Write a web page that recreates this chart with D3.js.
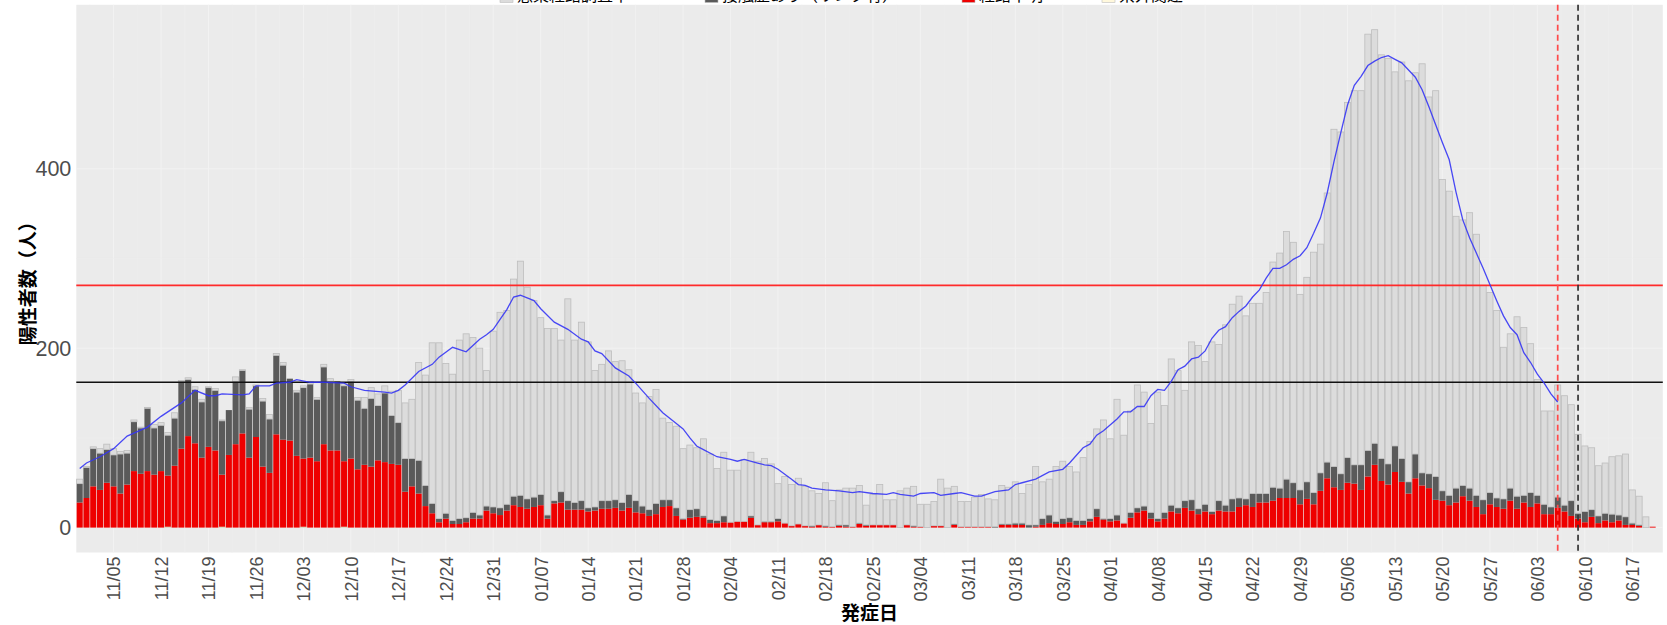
<!DOCTYPE html>
<html>
<head>
<meta charset="utf-8">
<script src="https://cdn.jsdelivr.net/npm/d3@7"></script>
<style>
  body { margin: 0; background: #fff; }
  svg { display: block; font-family: "Liberation Sans", Arial, "Noto Sans CJK JP", sans-serif; }
</style>
</head>
<body>
<svg id="chart" width="1667" height="625"></svg>
<script>
// daily counts by onset date, first bar = 2020-10-31
const startDate = new Date(2020, 9, 31);

const redCases = [
  28, 33, 46, 42, 50, 46, 38, 48, 63, 60,
  63, 59, 63, 57, 69, 88, 102, 94, 78, 90,
  86, 58, 81, 93, 105, 78, 101, 68, 61, 104,
  98, 97, 80, 76, 78, 74, 93, 86, 86, 73,
  77, 65, 70, 68, 75, 73, 71, 70, 40, 46,
  38, 24, 16, 6, 10, 4, 4, 6, 10, 10,
  19, 16, 14, 19, 25, 23, 21, 23, 25, 10,
  27, 28, 20, 20, 20, 18, 19, 21, 21, 22,
  19, 22, 17, 16, 13, 15, 23, 24, 13, 9,
  11, 12, 11, 5, 5, 6, 6, 7, 7, 11,
  3, 6, 6, 7, 5, 2, 4, 2, 1, 3,
  1, 1, 2, 1, 1, 4, 2, 3, 3, 3,
  3, 0, 3, 1, 1, 0, 2, 2, 0, 3,
  1, 1, 1, 1, 1, 0, 3, 3, 3, 3,
  0, 1, 3, 5, 4, 4, 6, 3, 3, 7,
  12, 9, 7, 8, 5, 11, 17, 19, 10, 7,
  10, 18, 16, 22, 19, 15, 18, 15, 19, 18,
  18, 23, 25, 23, 28, 28, 30, 33, 33, 33,
  26, 32, 26, 41, 55, 45, 42, 50, 49, 42,
  57, 70, 52, 48, 62, 51, 38, 55, 47, 44,
  31, 30, 25, 28, 35, 30, 23, 15, 26, 23,
  21, 30, 21, 28, 23, 27, 15, 15, 22, 18,
  13, 10, 6, 12, 5, 8, 6, 8, 3, 3,
  2, 0, 1
];

const linkedCases = [
  21, 34, 42, 41, 37, 35, 44, 35, 55, 51,
  70, 52, 51, 45, 53, 75, 63, 60, 62, 66,
  67, 60, 50, 70, 70, 54, 57, 73, 60, 88,
  83, 69, 71, 79, 82, 69, 86, 77, 77, 84,
  86, 77, 63, 76, 61, 77, 54, 47, 37, 31,
  37, 23, 11, 4, 6, 4, 6, 5, 7, 4,
  5, 7, 8, 7, 10, 13, 11, 11, 12, 4,
  3, 12, 10, 8, 10, 4, 4, 9, 9, 9,
  9, 15, 13, 8, 7, 12, 8, 7, 9, 1,
  9, 9, 2, 4, 3, 7, 0, 0, 0, 2,
  0, 1, 1, 3, 0, 0, 0, 0, 1, 0,
  1, 0, 1, 2, 0, 1, 1, 0, 0, 0,
  0, 0, 0, 1, 0, 0, 0, 0, 0, 1,
  0, 0, 0, 0, 0, 1, 1, 1, 2, 2,
  3, 2, 7, 9, 3, 6, 5, 5, 5, 3,
  9, 1, 3, 6, 0, 6, 5, 5, 7, 3,
  7, 7, 6, 8, 12, 6, 8, 3, 11, 7,
  14, 10, 7, 15, 10, 10, 15, 11, 21, 17,
  16, 19, 13, 20, 18, 23, 18, 28, 21, 28,
  29, 24, 25, 23, 29, 26, 13, 27, 14, 16,
  26, 11, 11, 16, 12, 14, 13, 16, 13, 10,
  11, 14, 14, 8, 16, 9, 11, 8, 12, 7,
  17, 6, 12, 8, 8, 8, 9, 6, 9, 2,
  1, 0, 0
];

const unknownCases = [
  5, 1, 2, 5, 6, 7, 3, 3, 2, 1,
  1, 4, 3, 3, 6, 1, 2, 3, 3, 1,
  2, 1, 0, 5, 1, 2, 1, 3, 5, 2,
  3, 0, 2, 2, 3, 2, 3, 3, 0, 3,
  2, 3, 12, 12, 13, 8, 27, 36, 62, 66,
  109, 123, 179, 196, 167, 163, 199, 205, 195, 186,
  151, 196, 218, 216, 242, 261, 236, 219, 197, 208,
  192, 169, 225, 181, 199, 185, 152, 152, 167, 154,
  158, 139, 120, 115, 126, 127, 91, 86, 91, 78,
  72, 68, 86, 73, 58, 71, 58, 57, 69, 71,
  71, 70, 64, 39, 52, 46, 51, 44, 39, 35,
  48, 29, 39, 41, 43, 42, 22, 34, 45, 28,
  28, 41, 41, 44, 25, 26, 27, 52, 44, 42,
  28, 28, 33, 36, 31, 30, 43, 41, 46, 33,
  45, 65, 41, 40, 61, 64, 57, 54, 70, 86,
  89, 110, 89, 129, 98, 113, 137, 127, 99, 141,
  119, 163, 153, 123, 176, 182, 159, 189, 174, 201,
  217, 225, 204, 212, 212, 224, 251, 262, 276, 268,
  218, 228, 268, 255, 300, 376, 381, 396, 417, 417,
  464, 461, 450, 452, 417, 442, 447, 425, 456, 420,
  430, 347, 339, 303, 296, 307, 291, 239, 223, 209,
  169, 172, 200, 187, 166, 129, 104, 107, 125, 122,
  107, 88, 73, 69, 56, 56, 64, 66, 70, 37,
  32, 12, 0
];

// imported cases only on a few days (day index from startDate)
const importDays = [13, 21, 33, 39];
const importCounts = [1, 1, 1, 1];

// 7-day average line (day index, value)
const maDays = [0, 1, 3, 5, 7, 10, 12, 14, 15, 17, 19, 20, 21, 24, 25, 26, 28, 29, 31, 32, 34, 36, 39, 40, 42, 45, 46, 47, 48, 50,
  52, 53, 55, 57, 59, 60, 61, 62, 63, 64, 65, 66, 67, 68, 70, 72, 74, 75, 76, 77, 79, 81, 82, 84, 86, 88, 89, 90, 91, 92,
  94, 96, 97, 98, 100, 101, 102, 103, 105, 106, 107, 108, 110, 112, 114, 115, 117, 119, 120, 121, 123, 124, 126, 127, 129, 130,
  132, 133, 135, 137, 138, 139, 141, 143, 145, 146, 148, 149, 150, 151, 153, 154, 155, 156, 157, 158, 159, 160, 161, 162, 163,
  164, 165, 166, 167, 168, 169, 170, 171, 172, 173, 174, 175, 176, 177, 178, 179, 180, 181, 182, 183, 184, 185, 186, 187, 188,
  189, 190, 191, 192, 193, 194, 195, 197, 198, 199, 200, 201, 202, 203, 204, 205, 206, 207, 208, 209, 210, 211, 212, 213, 214,
  215, 216, 217, 218];
const maValues = [66, 72, 79, 88, 102, 112, 124, 134, 139, 153, 147, 147, 149, 148, 149, 158, 158, 161, 162, 165, 162, 162, 161, 157, 153, 151, 150, 153, 159, 174,
  182, 190, 201, 196, 210, 215, 221, 232, 243, 257, 259, 256, 253, 244, 229, 221, 210, 207, 197, 194, 178, 169, 161, 144, 128, 116, 110, 100, 91, 87,
  79, 76, 74, 76, 72, 70, 69, 65, 54, 48, 47, 44, 42, 41, 39, 40, 38, 37, 39, 37, 35, 38, 39, 36, 38, 39,
  35, 35, 40, 42, 48, 50, 54, 62, 65, 72, 89, 93, 103, 108, 121, 129, 129, 135, 135, 147, 154, 153, 163, 176, 180,
  188, 190, 197, 211, 220, 224, 234, 241, 247, 257, 265, 278, 289, 289, 293, 299, 303, 312, 328, 345, 373, 408, 440, 471, 493,
  503, 515, 520, 524, 526, 522, 518, 502, 488, 469, 449, 429, 410, 374, 343, 323, 306, 289, 271, 253, 236, 223, 215, 195, 184,
  171, 161, 149, 140];

const thresholdHigh = 270;
const thresholdLow = 162;
const cutoffRed = new Date(2021, 5, 6);
const cutoffBlack = new Date(2021, 5, 9);

const legendLabels = ['感染経路調査中', '接触歴あり（リンク有）', '経路不明', '県外関連'];
const legendColors = ['#DCDCDC', '#5A5A5A', '#EE0000', '#FFF8DC'];

const panel = { left: 76.3, right: 1662.8, top: 4.8, bottom: 552.5 };

const svg = d3.select('#chart');

const importMap = new Map(importDays.map((d, i) => [d, importCounts[i]]));
const rows = redCases.map((v, i) => ({
  date: d3.timeDay.offset(startDate, i),
  imported: importMap.get(i) || 0,
  red: v,
  linked: linkedCases[i],
  unknown: unknownCases[i]
}));

const keys = ['imported', 'red', 'linked', 'unknown'];
const fills = { imported: '#FFF8DC', red: '#EE0000', linked: '#5A5A5A', unknown: '#DCDCDC' };
const strokes = { imported: '#D9D6C0', red: 'none', linked: 'none', unknown: '#BDBDBD' };

const series = d3.stack().keys(keys)(rows);
const maxTotal = d3.max(rows, d => d.imported + d.red + d.linked + d.unknown);
const pad = maxTotal * 0.05;

const x = d3.scaleTime()
  .domain([d3.timeHour.offset(startDate, -12), d3.timeHour.offset(d3.timeDay.offset(startDate, rows.length), 12)])
  .range([panel.left, panel.right]);

const y = d3.scaleLinear()
  .domain([-pad, maxTotal + pad])
  .range([panel.bottom, panel.top]);

const dayW = x(d3.timeDay.offset(startDate, 1)) - x(startDate);
const barW = dayW * 0.9;

// panel background + grid
svg.append('rect')
  .attr('x', panel.left).attr('y', panel.top)
  .attr('width', panel.right - panel.left).attr('height', panel.bottom - panel.top)
  .attr('fill', '#EBEBEB');

const grid = svg.append('g').attr('class', 'grid');
const weekTicks = d3.timeThursday.range(x.domain()[0], x.domain()[1]);
grid.selectAll('.vminor')
  .data(weekTicks.map(d => d3.timeHour.offset(d, -84)))
  .enter().append('line')
  .attr('x1', d => x(d)).attr('x2', d => x(d))
  .attr('y1', panel.top).attr('y2', panel.bottom)
  .attr('stroke', '#EFEFEF').attr('stroke-width', 0.6);
grid.selectAll('.vmajor')
  .data(weekTicks)
  .enter().append('line')
  .attr('x1', d => x(d)).attr('x2', d => x(d))
  .attr('y1', panel.top).attr('y2', panel.bottom)
  .attr('stroke', '#F2F2F2').attr('stroke-width', 1);
grid.selectAll('.hminor')
  .data([100, 300, 500])
  .enter().append('line')
  .attr('x1', panel.left).attr('x2', panel.right)
  .attr('y1', d => y(d)).attr('y2', d => y(d))
  .attr('stroke', '#EFEFEF').attr('stroke-width', 0.6);
grid.selectAll('.hmajor')
  .data([0, 200, 400])
  .enter().append('line')
  .attr('x1', panel.left).attr('x2', panel.right)
  .attr('y1', d => y(d)).attr('y2', d => y(d))
  .attr('stroke', '#F2F2F2').attr('stroke-width', 1);

// stacked bars
const bars = svg.append('g').attr('class', 'bars');
series.forEach(s => {
  bars.append('g')
    .selectAll('rect')
    .data(s.filter(d => d[1] > d[0]))
    .enter().append('rect')
    .attr('x', d => x(d.data.date) - barW / 2)
    .attr('width', barW)
    .attr('y', d => y(d[1]))
    .attr('height', d => y(d[0]) - y(d[1]))
    .attr('fill', fills[s.key])
    .attr('stroke', strokes[s.key])
    .attr('stroke-width', 0.8);
});

// reference lines
svg.append('line')
  .attr('x1', panel.left).attr('x2', panel.right)
  .attr('y1', y(thresholdHigh)).attr('y2', y(thresholdHigh))
  .attr('stroke', '#FF2A2A').attr('stroke-width', 1.7);
svg.append('line')
  .attr('x1', panel.left).attr('x2', panel.right)
  .attr('y1', y(thresholdLow)).attr('y2', y(thresholdLow))
  .attr('stroke', '#111').attr('stroke-width', 1.7);

svg.append('line')
  .attr('x1', x(cutoffRed)).attr('x2', x(cutoffRed))
  .attr('y1', panel.top).attr('y2', panel.bottom)
  .attr('stroke', '#FF4A4A').attr('stroke-width', 1.7)
  .attr('stroke-dasharray', '6,4');
svg.append('line')
  .attr('x1', x(cutoffBlack)).attr('x2', x(cutoffBlack))
  .attr('y1', panel.top).attr('y2', panel.bottom)
  .attr('stroke', '#333').attr('stroke-width', 1.7)
  .attr('stroke-dasharray', '6,4');

// moving average
const maPoints = maDays.map((d, i) => ({ date: d3.timeDay.offset(startDate, d), value: maValues[i] }));
svg.append('path')
  .datum(maPoints)
  .attr('fill', 'none')
  .attr('stroke', '#3535F5')
  .attr('stroke-opacity', 0.9)
  .attr('stroke-width', 1.3)
  .attr('d', d3.line().x(d => x(d.date)).y(d => y(d.value)));

// axes
const yAxis = svg.append('g')
  .attr('transform', `translate(${panel.left},0)`)
  .call(d3.axisLeft(y).tickValues([0, 200, 400]).tickSize(0).tickPadding(5));
yAxis.select('.domain').remove();
yAxis.selectAll('text')
  .attr('fill', '#4D4D4D')
  .style('font-size', '21.5px');

const xAxis = svg.append('g')
  .attr('transform', `translate(0,${panel.bottom})`)
  .call(d3.axisBottom(x).ticks(d3.timeThursday.every(1)).tickFormat(d3.timeFormat('%m/%d')).tickSize(0));
xAxis.select('.domain').remove();
xAxis.selectAll('text')
  .attr('transform', 'rotate(-90)')
  .attr('text-anchor', 'end')
  .attr('x', -4)
  .attr('y', 0)
  .attr('dy', '0.35em')
  .attr('fill', '#4D4D4D')
  .style('font-size', '18px');

svg.append('text')
  .attr('transform', `translate(28,${(panel.top + panel.bottom) / 2}) rotate(-90)`)
  .attr('text-anchor', 'middle')
  .attr('dy', '0.35em')
  .style('font-size', '19px')
  .style('font-weight', 'bold')
  .style('font-family', '"Noto Sans CJK JP", sans-serif')
  .text('陽性者数（人）');

svg.append('text')
  .attr('x', (panel.left + panel.right) / 2)
  .attr('y', 620)
  .attr('text-anchor', 'middle')
  .style('font-size', '19px')
  .style('font-weight', 'bold')
  .style('font-family', '"Noto Sans CJK JP", sans-serif')
  .text('発症日');

// legend (mostly cut off at the top edge)
const legendX = [500, 705, 962, 1102];
const legend = svg.append('g').attr('class', 'legend');
legendLabels.forEach((label, i) => {
  legend.append('rect')
    .attr('x', legendX[i]).attr('y', -11)
    .attr('width', 13).attr('height', 13.5)
    .attr('fill', legendColors[i])
    .attr('stroke', '#BDBDBD').attr('stroke-width', 0.6);
  legend.append('text')
    .attr('x', legendX[i] + 17)
    .attr('y', 1.2)
    .style('font-size', '16px')
    .style('font-family', '"Noto Sans CJK JP", sans-serif')
    .text(label);
});
</script>
</body>
</html>
